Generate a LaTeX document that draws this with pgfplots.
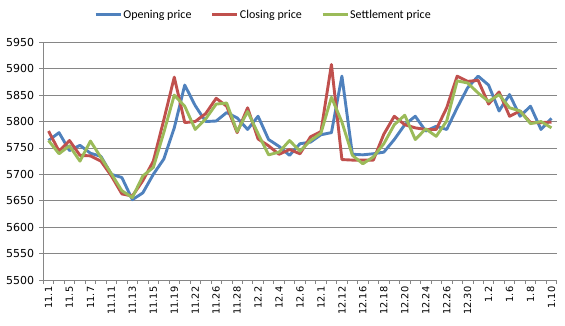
\documentclass[border=0pt]{standalone}
\usepackage{fontspec}
\setmainfont{Carlito}
\newfontfamily\tickfont{DejaVu Sans}
\usepackage{pgfplots}
\usepackage{pgfplotstable}
\pgfplotsset{compat=1.18}
\definecolor{sblue}{HTML}{4F81BD}
\definecolor{sred}{HTML}{C0504D}
\definecolor{sgreen}{HTML}{9BBB59}
\definecolor{gridgray}{HTML}{868686}

\pgfplotstableread{
i open close settle
0 5764 5782 5764
1 5779 5744 5739
2 5745 5764 5754
3 5755 5736 5725
4 5740 5735 5763
5 5734 5725 5732
6 5700 5697 5701
7 5694 5663 5669
8 5652 5659 5656
9 5665 5688 5697
10 5700 5725 5713
11 5729 5803 5779
12 5788 5884 5850
13 5869 5798 5829
14 5830 5800 5785
15 5800 5815 5805
16 5801 5844 5833
17 5817 5829 5835
18 5807 5779 5781
19 5785 5826 5819
20 5810 5767 5777
21 5766 5754 5737
22 5753 5738 5742
23 5736 5747 5764
24 5758 5739 5744
25 5761 5771 5764
26 5775 5781 5778
27 5779 5908 5846
28 5886 5728 5799
29 5738 5727 5736
30 5737 5727 5720
31 5739 5727 5733
32 5742 5776 5758
33 5766 5810 5794
34 5794 5794 5812
35 5810 5788 5766
36 5782 5785 5786
37 5791 5785 5772
38 5785 5826 5801
39 5826 5886 5877
40 5864 5876 5873
41 5886 5878 5854
42 5869 5833 5838
43 5820 5856 5851
44 5851 5810 5826
45 5810 5820 5820
46 5829 5798 5796
47 5785 5798 5800
48 5806 5799 5788
}\datatable

\begin{document}
\begin{tikzpicture}
\path[use as bounding box] (0,0) rectangle (565bp,326bp);
\begin{axis}[
  at={(43.3bp,46bp)}, anchor=south west,
  scale only axis, width=513.4bp, height=237.7bp,
  xmin=-0.5, xmax=48.5, ymin=5500, ymax=5950,
  ytick={5500,5550,...,5950},
  xtick={-0.5,0.5,...,48.5},
  xticklabels={},
  extra x ticks={0,2,...,48},
  extra x tick labels={11.1,11.5,11.7,11.11,11.13,11.15,11.19,11.22,11.26,11.28,12.2,12.4,12.6,12.1,12.12,12.16,12.18,12.20\hspace{3bp},12.24,12.26,12.30\hspace{3bp},1.2,1.6,1.8,1.10\hspace{3bp}},
  extra x tick style={major tick length=0pt},
  axis x line*=bottom, axis y line*=left,
  axis line style={gridgray, line width=0.75bp, -},
  ymajorgrids, grid style={gridgray, line width=0.75bp},
  tick align=outside,
  major tick length=4bp,
  tick style={gridgray, line width=0.75bp},
  xticklabel style={font=\tickfont\fontsize{9.8bp}{11bp}\selectfont, yshift=-6.5bp, rotate=90, anchor=east, inner sep=0pt},
  yticklabel style={font=\tickfont\fontsize{11bp}{13bp}\selectfont, inner sep=0pt, xshift=-5bp},
  /pgf/number format/.cd, 1000 sep={}, assume math mode=true, /pgfplots/.cd,
  legend style={at={(0.428,1.115)}, anchor=center, draw=none, fill=none,
    legend columns=3, font=\fontsize{12bp}{14bp}\selectfont,
    /tikz/every even column/.append style={column sep=18bp},
    nodes={inner sep=1.2bp}},
  legend image code/.code={\draw[#1,line width=3bp] (0bp,0bp) -- (25bp,0bp);},
  every axis plot/.append style={line width=2.9bp, line join=round, mark=none},
]
\addplot[sblue] table[x=i, y=open] {\datatable};
\addlegendentry{Opening price}
\addplot[sred] table[x=i, y=close] {\datatable};
\addlegendentry{Closing price}
\addplot[sgreen] table[x=i, y=settle] {\datatable};
\addlegendentry{Settlement price}
\end{axis}
\end{tikzpicture}
\end{document}
